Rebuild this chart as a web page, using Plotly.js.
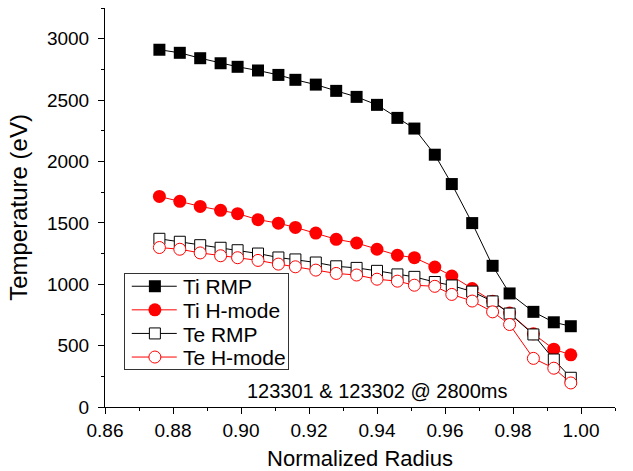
<!DOCTYPE html>
<html>
<head>
<meta charset="utf-8">
<script src="https://cdn.plot.ly/plotly-3.0.1.min.js"></script>
<style>html,body{margin:0;padding:0;background:#fff;}#chart{width:633px;height:471px;}</style>
</head>
<body>
<div id="chart"></div>
<script>
var radius = [0.876, 0.882, 0.888, 0.894, 0.899, 0.905, 0.911, 0.916, 0.922, 0.928, 0.934, 0.940, 0.946, 0.951, 0.957, 0.962, 0.968, 0.974, 0.979, 0.986, 0.992, 0.997];
var tiRMP   = [2910, 2885, 2841, 2800, 2771, 2741, 2705, 2665, 2626, 2575, 2526, 2461, 2355, 2268, 2055, 1816, 1498, 1150, 925, 775, 690, 658];
var tiHmode = [1715, 1675, 1634, 1602, 1575, 1526, 1497, 1463, 1417, 1366, 1336, 1285, 1236, 1216, 1140, 1067, 965, 862, 765, 596, 471, 425];
var teRMP   = [1370, 1346, 1318, 1297, 1277, 1250, 1218, 1202, 1177, 1146, 1133, 1109, 1080, 1060, 1018, 990, 940, 860, 761, 591, 387, 238];
var teHmode = [1299, 1285, 1255, 1232, 1216, 1194, 1164, 1142, 1115, 1088, 1075, 1041, 1025, 992, 983, 917, 863, 775, 672, 396, 316, 196];
var seriesNames = ["Ti RMP", "Ti H-mode", "Te RMP", "Te H-mode"];
var xTickVals = [0.86, 0.88, 0.90, 0.92, 0.94, 0.96, 0.98, 1.00];
var xTickText = ["0.86", "0.88", "0.90", "0.92", "0.94", "0.96", "0.98", "1.00"];
var yTickVals = [0, 500, 1000, 1500, 2000, 2500, 3000];
var annotationText = "123301 &amp; 123302 @ 2800ms";

var FONT = "Liberation Sans, Arial, Helvetica, sans-serif";

var traces = [
  {x: radius, y: tiRMP, name: seriesNames[0], type: "scatter", mode: "lines+markers",
   line: {color: "#000", width: 1},
   marker: {symbol: "square", size: 12, color: "#000", line: {width: 0}}},
  {x: radius, y: tiHmode, name: seriesNames[1], type: "scatter", mode: "lines+markers",
   line: {color: "#ff0000", width: 1},
   marker: {symbol: "circle", size: 13, color: "#ff0000", line: {width: 0}}},
  {x: radius, y: teRMP, name: seriesNames[2], type: "scatter", mode: "lines+markers",
   line: {color: "#000", width: 1},
   marker: {symbol: "square", size: 11, color: "#fff", line: {color: "#000", width: 1}}},
  {x: radius, y: teHmode, name: seriesNames[3], type: "scatter", mode: "lines+markers",
   line: {color: "#ff0000", width: 1},
   marker: {symbol: "circle", size: 12, color: "#fff", line: {color: "#ff0000", width: 1}}}
];

var layout = {
  width: 633, height: 471,
  paper_bgcolor: "#fff", plot_bgcolor: "#fff",
  margin: {l: 105, r: 18, t: 8, b: 64, pad: 0},
  font: {family: FONT, color: "#000", size: 19},
  showlegend: true,
  legend: {
    x: 0.038, y: 0.337, xanchor: "left", yanchor: "top",
    bgcolor: "#fff", bordercolor: "#333", borderwidth: 1,
    font: {family: FONT, size: 21, color: "#000"},
    tracegroupgap: 0, itemwidth: 40
  },
  xaxis: {
    range: [0.86, 1.01],
    tickmode: "array", tickvals: xTickVals, ticktext: xTickText,
    ticks: "outside", ticklen: 6, tickwidth: 1, tickcolor: "#000",
    minor: {dtick: 0.01, ticks: "outside", ticklen: 3, tickwidth: 1, tickcolor: "#000"},
    showline: true, linecolor: "#000", linewidth: 1, mirror: false,
    showgrid: false, zeroline: false,
    tickfont: {family: FONT, size: 19, color: "#000"},
    title: {text: "Normalized Radius", font: {family: FONT, size: 22, color: "#000"}, standoff: 10},
    automargin: false
  },
  yaxis: {
    range: [0, 3250],
    tickmode: "array", tickvals: yTickVals,
    ticks: "outside", ticklen: 6, tickwidth: 1, tickcolor: "#000",
    minor: {dtick: 250, ticks: "outside", ticklen: 3, tickwidth: 1, tickcolor: "#000"},
    showline: true, linecolor: "#000", linewidth: 1, mirror: false,
    showgrid: false, zeroline: false,
    ticklabelstandoff: 5,
    tickfont: {family: FONT, size: 19, color: "#000"},
    title: {text: "Temperature (eV)", font: {family: FONT, size: 24, color: "#000"}, standoff: 12},
    automargin: false
  },
  annotations: [{
    xref: "paper", yref: "paper", x: 0.534, y: 0.04, xanchor: "center", yanchor: "middle",
    text: annotationText, showarrow: false,
    font: {family: FONT, size: 20, color: "#000"}
  }]
};

var gd = document.getElementById("chart");
Plotly.newPlot(gd, traces, layout, {displayModeBar: false, staticPlot: true}).then(function () {
  // tighten legend rows and lengthen the legend line sample, like the reference
  var leg = gd.querySelector(".legend");
  if (!leg) return;
  var rowH = 23.6, firstRow = 13.7;
  var sb = leg.querySelector(".scrollbox");
  if (sb) { sb.removeAttribute("clip-path"); sb.setAttribute("transform", "translate(0,0)"); }
  var items = leg.querySelectorAll(".traces");
  items.forEach(function (it, i) {
    it.setAttribute("transform", "translate(0," + (firstRow + i * rowH) + ")");
    it.querySelectorAll(".legendlines path").forEach(function (p) { p.setAttribute("d", "M7.4,0h45"); });
    it.querySelectorAll(".legendpoints path").forEach(function (p) { p.setAttribute("transform", "translate(30.5,0)"); });
    var t = it.querySelector(".legendtext");
    if (t) t.setAttribute("x", 58.5);
  });
  var bg = leg.querySelector("rect.bg");
  if (bg) { bg.setAttribute("width", 164); bg.setAttribute("height", 96); bg.setAttribute("x", 0.5); bg.setAttribute("y", 0.5); }
});
</script>
</body>
</html>
